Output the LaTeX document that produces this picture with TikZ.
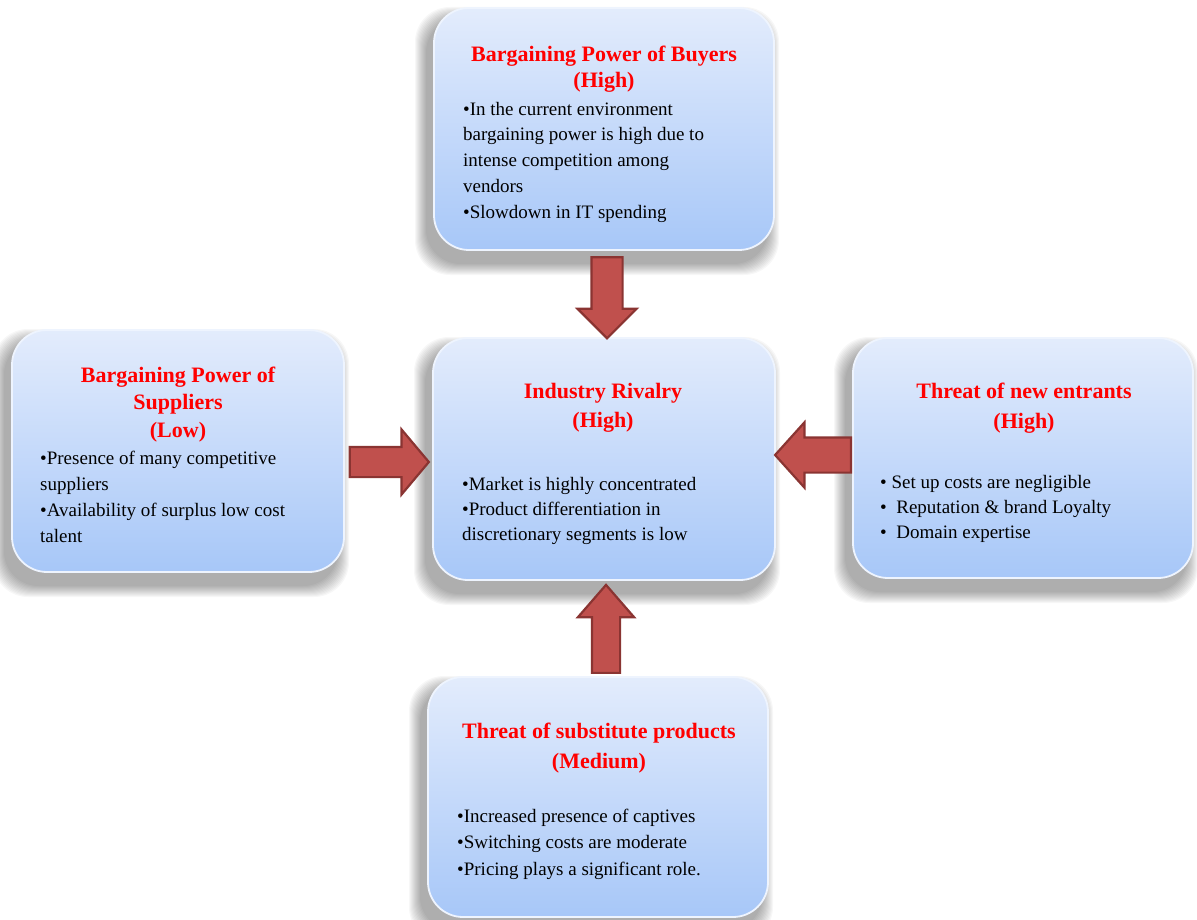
\documentclass[tikz,border=0pt]{standalone}
\usepackage{fontspec}
\setmainfont{Liberation Serif}
\usetikzlibrary{shapes.arrows,calc}
\definecolor{boxtop}{HTML}{E3ECFC}
\definecolor{boxbot}{HTML}{A7C7F8}
\definecolor{boxedge}{HTML}{EEF4FE}
\definecolor{arrfill}{HTML}{C0504D}
\definecolor{arrdraw}{HTML}{8A3432}
\newcommand\myshadow[4]{%
  \foreach \i in {0,...,11}{%
    \fill[black,opacity=0.03,rounded corners=35pt]
      ({#1-8-\i},{#2+10-\i}) rectangle ({#3-6+\i},{#4+14+\i});
  }%
}
\begin{document}
\begin{tikzpicture}[x=1pt,y=-1pt,
  forcebox/.style={rectangle,rounded corners=35pt,top color=boxtop,bottom color=boxbot,
    draw=boxedge,line width=1.8pt,inner sep=0pt},
  ttl/.style={text=red,align=center,anchor=base,inner sep=0pt},
  body/.style={text=black,align=left,anchor=base west,inner sep=0pt},
  blockarrow/.style={single arrow,fill=arrfill,draw=arrdraw,line width=2.2pt,
    single arrow head indent=0pt,inner xsep=0pt,single arrow tip angle=90}
]
\useasboundingbox (0,0) rectangle (1197,920);
% shadows
\myshadow{434}{8}{774}{250}
\myshadow{12}{330}{344}{572}
\myshadow{433}{338}{775}{580}
\myshadow{853}{338}{1193}{578}
\myshadow{428}{677}{768}{917}
% boxes
\node[forcebox,minimum width=340pt,minimum height=242pt] (B) at (604,129) {};
\node[forcebox,minimum width=332pt,minimum height=242pt] (S) at (178,451) {};
\node[forcebox,minimum width=342pt,minimum height=242pt] (R) at (604,459) {};
\node[forcebox,minimum width=340pt,minimum height=240pt] (E) at (1023,458) {};
\node[forcebox,minimum width=340pt,minimum height=240pt] (T) at (598,797) {};
% arrows
\node[blockarrow,rotate=-90,minimum height=81pt,inner ysep=14.5pt,
  single arrow head extend=14pt] (aB) at (607,290) {};
\node[blockarrow,minimum height=79pt,inner ysep=14pt,
  single arrow head extend=17.5pt,single arrow tip angle=100] (aS) at (383,462) {};
\node[blockarrow,rotate=180,minimum height=76pt,inner ysep=16.5pt,
  single arrow head extend=15pt,single arrow tip angle=96] (aE) at (821,455) {};
\node[blockarrow,rotate=90,minimum height=88pt,inner ysep=13pt,
  single arrow head extend=14pt,single arrow tip angle=82] (aT) at (606,637) {};
% texts: buyers
\node[ttl,font=\fontsize{22}{26}\bfseries\selectfont] (Bt) at (604,88) {Bargaining Power of Buyers\\(High)};
\node[body,font=\fontsize{19}{26}\selectfont] (Bb) at (463,219)
  {•In the current environment\\bargaining power is high due to\\intense competition among\\vendors\\•Slowdown in IT spending};
% suppliers
\node[ttl,font=\fontsize{22}{27.5}\bfseries\selectfont] (St) at (178,437) {Bargaining Power of\\Suppliers\\(Low)};
\node[body,font=\fontsize{19}{25.7}\selectfont] (Sb) at (40,542)
  {•Presence of many competitive\\suppliers\\•Availability of surplus low cost\\talent};
% rivalry
\node[ttl,font=\fontsize{22}{29}\bfseries\selectfont] (Rt) at (603,427) {Industry Rivalry\\(High)};
\node[body,font=\fontsize{19}{25}\selectfont] (Rb) at (462,540)
  {•Market is highly concentrated\\•Product differentiation in\\discretionary segments is low};
% entrants
\node[ttl,font=\fontsize{22}{30}\bfseries\selectfont] (Et) at (1024,428) {Threat of new entrants\\(High)};
\node[body,font=\fontsize{19}{25}\selectfont] (Eb) at (880,538)
  {• Set up costs are negligible\\•\ \ Reputation \& brand Loyalty\\•\ \ Domain expertise};
% substitutes
\node[ttl,font=\fontsize{22}{30}\bfseries\selectfont] (Tt) at (599,768) {Threat of substitute products\\(Medium)};
\node[body,font=\fontsize{19}{26.5}\selectfont] (Tb) at (457,875)
  {•Increased presence of captives\\•Switching costs are moderate\\•Pricing plays a significant role.};
\end{tikzpicture}
\end{document}
